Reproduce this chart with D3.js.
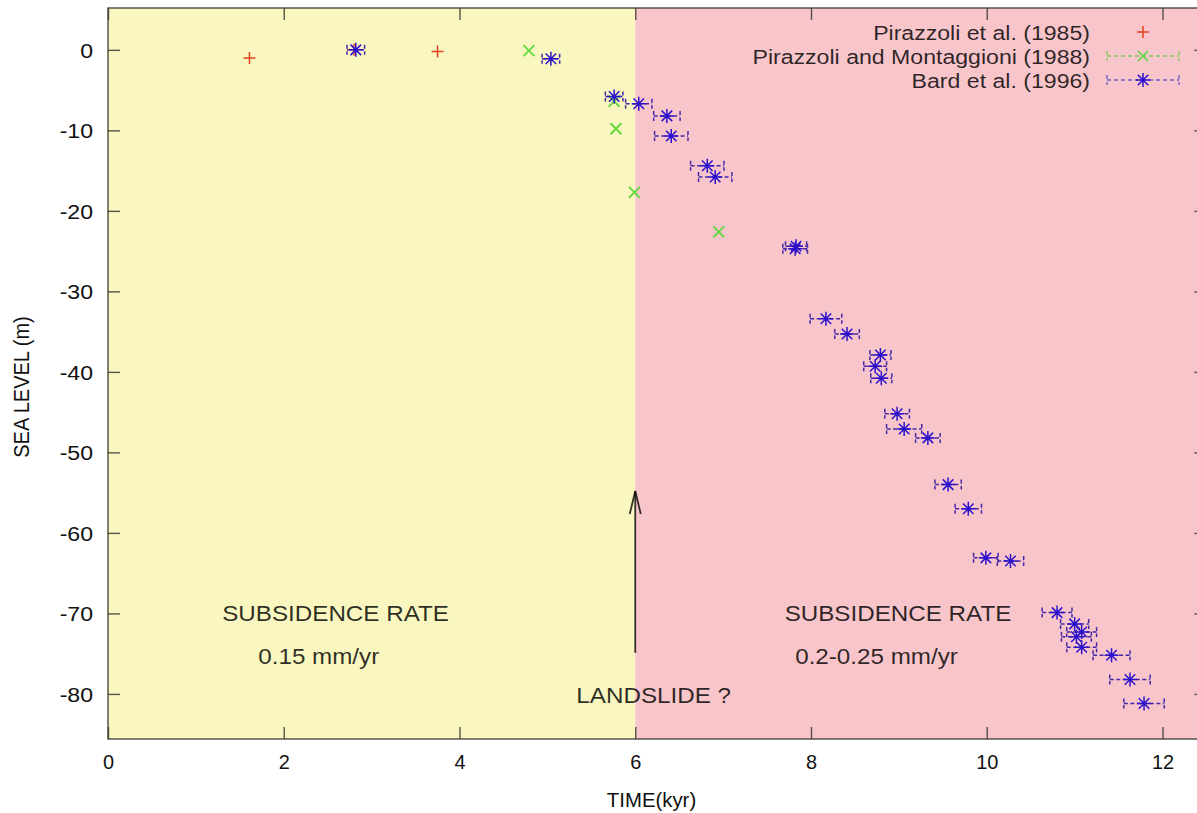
<!DOCTYPE html>
<html>
<head>
<meta charset="utf-8">
<script src="https://cdn.jsdelivr.net/npm/d3@7"></script>
<style>
  body { margin: 0; background: #fff; }
  svg { display: block; }
  text { font-family: "Liberation Sans", Arial, Helvetica, sans-serif; }
</style>
</head>
<body>
<svg id="chart" width="1197" height="813"></svg>
<script>
// Sea-level records: time before present (kyr) and relative sea level (m)
const pirazzoliTime  = [1.61, 2.80, 3.75];
const pirazzoliLevel = [-1.0, 0.0, -0.2];

const montaggioniTime  = [4.79, 5.76, 5.78, 5.99, 6.95];
const montaggioniLevel = [-0.1, -6.4, -9.8, -17.7, -22.6];

const bardTime  = [2.82, 5.04, 5.76, 6.04, 6.36, 6.41, 6.82, 6.91, 7.82, 7.83,
                   8.17, 8.41, 8.79, 8.73, 8.80, 8.98, 9.06, 9.33, 9.56, 9.79,
                   9.99, 10.27, 10.80, 11.00, 11.08, 11.02, 11.08, 11.42, 11.63, 11.79];
const bardLevel = [0.0, -1.1, -5.8, -6.7, -8.2, -10.7, -14.4, -15.8, -24.7, -24.4,
                   -33.4, -35.3, -37.9, -39.3, -40.8, -45.2, -47.1, -48.2, -54.0, -57.0,
                   -63.1, -63.5, -69.9, -71.3, -72.3, -72.9, -74.2, -75.2, -78.2, -81.2];
const bardTimeErr = [0.10, 0.10, 0.10, 0.15, 0.15, 0.19, 0.19, 0.19, 0.14, 0.12,
                     0.18, 0.14, 0.12, 0.13, 0.12, 0.14, 0.20, 0.14, 0.15, 0.15,
                     0.14, 0.15, 0.17, 0.16, 0.17, 0.17, 0.17, 0.21, 0.23, 0.23];

const seriesNames = ["Pirazzoli et al. (1985)", "Pirazzoli and Montaggioni (1988)", "Bard et al. (1996)"];

const xTicks = [0, 2, 4, 6, 8, 10, 12];
const yTicks = [0, -10, -20, -30, -40, -50, -60, -70, -80];

const xDomain = [0, 12.5];
const yDomain = [-85.6, 5.2];
const landslideTime = 6;

// Regime annotations (positions in data units)
const annotations = [
  { text: "SUBSIDENCE RATE", t: 1.30, z: -70.9 },
  { text: "0.15 mm/yr",      t: 1.71, z: -76.3 },
  { text: "SUBSIDENCE RATE", t: 7.70, z: -70.9 },
  { text: "0.2-0.25 mm/yr",  t: 7.82, z: -76.3 },
  { text: "LANDSLIDE ?",     t: 5.33, z: -81.1 }
];
const arrowFrom = -74.9, arrowTo = -54.8;

const svg = d3.select("#chart");
const plotLeft = 108, plotTop = 8, plotBottom = 739;
const pxPerKyr = 87.875;
const x = d3.scaleLinear().domain(xDomain).range([plotLeft, plotLeft + pxPerKyr * (xDomain[1] - xDomain[0])]);
const y = d3.scaleLinear().domain(yDomain).range([plotBottom, plotTop]);
const plotRight = x(xDomain[1]);

const colors = {
  early: "#f9f6bf",
  late: "#f7c5ca",
  red: "#e2421e",
  green: "#5fd83c",
  blue: "#2c12cc",
  blueBar: "#4428a8",
  frame: "#3a3a30",
  ink: "#000"
};
const stretch = 1.1;
const plainNumber = d => String(d);

const defs = svg.append("defs");
defs.append("clipPath").attr("id", "plotClip")
  .append("rect").attr("x", plotLeft).attr("y", plotTop)
  .attr("width", plotRight - plotLeft).attr("height", plotBottom - plotTop);

// Two background regimes split at the landslide
svg.append("rect").attr("x", x(0)).attr("y", plotTop)
  .attr("width", x(landslideTime) - x(0)).attr("height", plotBottom - plotTop).attr("fill", colors.early);
svg.append("rect").attr("x", x(landslideTime)).attr("y", plotTop)
  .attr("width", x(xDomain[1]) - x(landslideTime)).attr("height", plotBottom - plotTop).attr("fill", colors.late);

// Axes with inward ticks, mirrored on top and right
const tickLen = 12;
const gLeft = svg.append("g").attr("transform", `translate(${plotLeft},0)`)
  .call(d3.axisLeft(y).tickValues(yTicks).tickFormat(plainNumber)
    .tickSize(-tickLen).tickSizeOuter(0).tickPadding(15));
const gBottom = svg.append("g").attr("transform", `translate(0,${plotBottom})`)
  .call(d3.axisBottom(x).tickValues(xTicks).tickFormat(plainNumber)
    .tickSize(-tickLen).tickSizeOuter(0).tickPadding(0));
const gTop = svg.append("g").attr("transform", `translate(0,${plotTop})`)
  .call(d3.axisTop(x).tickValues(xTicks).tickSize(-tickLen).tickSizeOuter(0).tickFormat(""));
const gRight = svg.append("g").attr("transform", `translate(${plotRight},0)`)
  .call(d3.axisRight(y).tickValues(yTicks).tickSize(-tickLen).tickSizeOuter(0).tickFormat(""));

[gLeft, gBottom, gTop, gRight].forEach(g => {
  g.select(".domain").remove();
  g.selectAll(".tick line").attr("stroke", colors.frame).attr("stroke-width", 1.4).attr("stroke-opacity", 0.85);
});

gLeft.selectAll(".tick text")
  .attr("x", null).attr("dy", null)
  .attr("transform", `translate(-15,7.5) scale(${stretch},1)`)
  .attr("font-size", 21).attr("fill", "#111")
  .style("font-family", '"Liberation Sans", Arial, sans-serif');
gBottom.selectAll(".tick text")
  .attr("y", null).attr("dy", null)
  .attr("transform", "translate(0,30) scale(0.95,1)")
  .attr("font-size", 21).attr("fill", "#111")
  .style("font-family", '"Liberation Sans", Arial, sans-serif');

// Plot frame
svg.append("rect").attr("x", plotLeft).attr("y", plotTop)
  .attr("width", plotRight - plotLeft).attr("height", plotBottom - plotTop)
  .attr("fill", "none").attr("stroke", colors.frame).attr("stroke-width", 1.5).attr("stroke-opacity", 0.85);

// Axis titles
svg.append("text")
  .attr("transform", `translate(${(plotLeft + 1197) / 2 - 1},807) scale(0.97,1)`)
  .attr("text-anchor", "middle").attr("font-size", 21).attr("fill", "#111")
  .text("TIME(kyr)");
svg.append("text")
  .attr("transform", `translate(29,387) rotate(-90) scale(1,${stretch})`)
  .attr("text-anchor", "middle").attr("font-size", 20).attr("fill", "#111")
  .text("SEA LEVEL (m)");

// Annotations and landslide arrow
const plot = svg.append("g").attr("clip-path", "url(#plotClip)");

plot.selectAll("text.note").data(annotations).join("text")
  .attr("class", "note")
  .attr("transform", d => `translate(${x(d.t)},${y(d.z)}) scale(${stretch},1)`)
  .attr("font-size", 22).attr("fill", colors.ink).attr("fill-opacity", 0.82)
  .text(d => d.text);

const arrow = plot.append("g").attr("stroke", colors.ink).attr("stroke-opacity", 0.78)
  .attr("stroke-width", 1.8).attr("fill", "none");
arrow.append("line")
  .attr("x1", x(landslideTime)).attr("x2", x(landslideTime))
  .attr("y1", y(arrowFrom)).attr("y2", y(arrowTo));
arrow.append("path")
  .attr("d", `M${x(landslideTime) - 5.5},${y(arrowTo) + 23} L${x(landslideTime)},${y(arrowTo)} L${x(landslideTime) + 5.5},${y(arrowTo) + 23}`);

// Marker shapes
function plusPath(cx, cy, r) {
  return `M${cx - r},${cy}H${cx + r}M${cx},${cy - r}V${cy + r}`;
}
function crossPath(cx, cy, r) {
  return `M${cx - r},${cy - r}L${cx + r},${cy + r}M${cx - r},${cy + r}L${cx + r},${cy - r}`;
}
function starPath(cx, cy, r) {
  return plusPath(cx, cy, r) + crossPath(cx, cy, r * 0.75);
}
function errorBarPath(x0, x1, cy, cap) {
  return `M${x0},${cy}H${x1}M${x0},${cy - cap}V${cy + cap}M${x1},${cy - cap}V${cy + cap}`;
}

// Bard et al. (1996): horizontal age error bars and asterisks
const bard = bardTime.map((t, i) => ({ t, z: bardLevel[i], e: bardTimeErr[i] }));
plot.append("g").selectAll("path").data(bard).join("path")
  .attr("d", d => errorBarPath(x(d.t - d.e), x(d.t + d.e), y(d.z), 5))
  .attr("fill", "none").attr("stroke", colors.blueBar).attr("stroke-width", 1.5)
  .attr("stroke-dasharray", "4,2.5");

// Pirazzoli et al. (1985): plus markers
const pirazzoli = pirazzoliTime.map((t, i) => ({ t, z: pirazzoliLevel[i] }));
plot.append("g").selectAll("path").data(pirazzoli).join("path")
  .attr("d", d => plusPath(x(d.t), y(d.z), 6))
  .attr("fill", "none").attr("stroke", colors.red).attr("stroke-width", 1.5);

// Pirazzoli and Montaggioni (1988): cross markers
const montaggioni = montaggioniTime.map((t, i) => ({ t, z: montaggioniLevel[i] }));
plot.append("g").selectAll("path").data(montaggioni).join("path")
  .attr("d", d => crossPath(x(d.t), y(d.z), 5.5))
  .attr("fill", "none").attr("stroke", colors.green).attr("stroke-width", 1.8);

plot.append("g").selectAll("path").data(bard).join("path")
  .attr("d", d => starPath(x(d.t), y(d.z), 7))
  .attr("fill", "none").attr("stroke", colors.blue).attr("stroke-width", 1.5);

// Legend
const legendTextX = 1090, legendSymX = 1143, legendBarX0 = 1107, legendBarX1 = 1179;
const legendRows = [32, 56, 80];
const legend = svg.append("g");
seriesNames.forEach((name, i) => {
  legend.append("text")
    .attr("transform", `translate(${legendTextX},${legendRows[i] + 7.5}) scale(${stretch},1)`)
    .attr("text-anchor", "end").attr("font-size", 21)
    .attr("fill", colors.ink).attr("fill-opacity", 0.82)
    .text(name);
});
legend.append("path").attr("d", plusPath(legendSymX, legendRows[0], 6))
  .attr("fill", "none").attr("stroke", colors.red).attr("stroke-width", 1.5);
legend.append("path").attr("d", errorBarPath(legendBarX0, legendBarX1, legendRows[1], 5))
  .attr("fill", "none").attr("stroke", "#7cc95a").attr("stroke-width", 1.3).attr("stroke-dasharray", "4,3");
legend.append("path").attr("d", crossPath(legendSymX, legendRows[1], 5))
  .attr("fill", "none").attr("stroke", colors.green).attr("stroke-width", 1.6);
legend.append("path").attr("d", errorBarPath(legendBarX0, legendBarX1, legendRows[2], 5))
  .attr("fill", "none").attr("stroke", "#6a55c4").attr("stroke-width", 1.3).attr("stroke-dasharray", "4,3");
legend.append("path").attr("d", starPath(legendSymX, legendRows[2], 7))
  .attr("fill", "none").attr("stroke", colors.blue).attr("stroke-width", 1.5);
</script>
</body>
</html>
